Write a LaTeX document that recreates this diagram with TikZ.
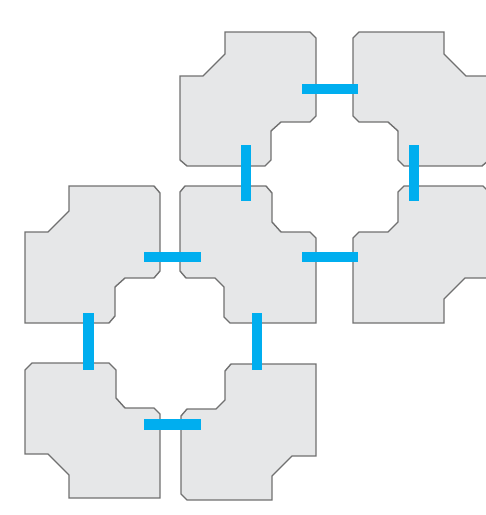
\documentclass[tikz,border=0pt]{standalone}
\usetikzlibrary{calc}
\definecolor{tilegray}{RGB}{230,231,232}
\definecolor{edgegray}{RGB}{112,112,112}
\definecolor{linkcyan}{RGB}{0,174,239}

\begin{document}
\begin{tikzpicture}[
  x=1pt, y=-1pt,
  tile/.style={fill=tilegray, draw=edgegray, line width=1.4pt, line join=miter},
  bar/.style={fill=linkcyan},
]
\useasboundingbox (0,0) rectangle (486,515);

% === Upper ring of tiles ===
\draw[tile] (225,32) -- (310,32) -- (316,38) -- (316,116) -- (310,122) -- (281,122) -- (271,131)
  -- (271,160) -- (265,166) -- (187,166) -- (180,160) -- (180,76) -- (203,76) -- (225,54) -- cycle;
\draw[tile] (444,32) -- (359,32) -- (353,38) -- (353,116) -- (359,122) -- (388,122) -- (398,131)
  -- (398,160) -- (404,166) -- (482,166) -- (489,160) -- (489,76) -- (466,76) -- (444,54) -- cycle;
\draw[tile] (185,186) -- (266,186) -- (272,193) -- (272,222) -- (281,232) -- (310,232) -- (316,238)
  -- (316,323) -- (230,323) -- (224,317) -- (224,287) -- (215,278) -- (186,278) -- (180,271) -- (180,192) -- cycle;
\draw[tile] (404,186) -- (483,186) -- (489,192) -- (489,278) -- (465,278) -- (444,299) -- (444,323)
  -- (353,323) -- (353,238) -- (359,232) -- (388,232) -- (398,222) -- (398,192) -- cycle;

% === Lower ring of tiles ===
\draw[tile] (69,186) -- (154,186) -- (160,193) -- (160,271) -- (154,278) -- (125,278) -- (115,287)
  -- (115,316) -- (109,323) -- (25,323) -- (25,232) -- (48,232) -- (69,211) -- cycle;
\draw[tile] (32,363) -- (109,363) -- (116,370) -- (116,398) -- (125,408) -- (154,408) -- (160,414)
  -- (160,498) -- (69,498) -- (69,475) -- (48,454) -- (25,454) -- (25,370) -- cycle;
\draw[tile] (231,364) -- (316,364) -- (316,456) -- (292,456) -- (272,476) -- (272,500) -- (187,500)
  -- (181,494) -- (181,416) -- (187,409) -- (216,409) -- (225,400) -- (225,371) -- cycle;

% === Links between neighbouring tiles ===
\fill[bar] (302,84) rectangle (358,94);
\fill[bar] (241,145) rectangle (251,201);
\fill[bar] (409,145) rectangle (419,201);
\fill[bar] (302,252) rectangle (358,262);
\fill[bar] (144,252) rectangle (201,262);
\fill[bar] (83,313) rectangle (94,370);
\fill[bar] (252,313) rectangle (262,370);
\fill[bar] (144,419) rectangle (201,430);

\end{tikzpicture}
\end{document}
